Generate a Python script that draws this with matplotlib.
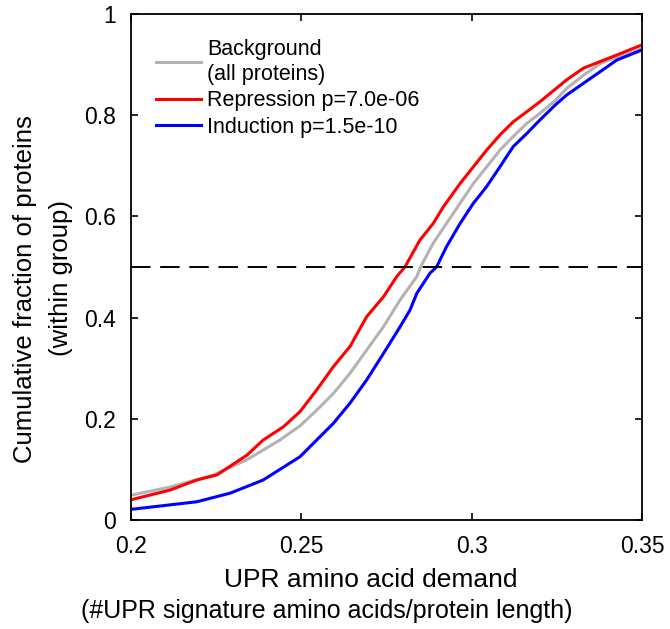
import matplotlib
matplotlib.use("Agg")
import matplotlib.pyplot as plt

plt.rcParams['font.family'] = ['Liberation Sans', 'DejaVu Sans']

# Background (all proteins)
bg_x = [0.2, 0.2114, 0.2242, 0.234, 0.2437, 0.2496, 0.2545, 0.2594, 0.2643, 0.2692,
        0.2741, 0.2790, 0.2839, 0.2850, 0.2887, 0.2926, 0.2966, 0.3005, 0.3044, 0.3083,
        0.3122, 0.3162, 0.3201, 0.3245, 0.3279, 0.3328, 0.3377, 0.3426, 0.3474, 0.35]
bg_y = [0.049, 0.065, 0.089, 0.119, 0.158, 0.186, 0.217, 0.250, 0.290, 0.336,
        0.382, 0.435, 0.481, 0.500, 0.547, 0.586, 0.626, 0.665, 0.698, 0.731,
        0.758, 0.784, 0.804, 0.829, 0.853, 0.879, 0.902, 0.915, 0.925, 0.932]

# Repression
rep_x = [0.2, 0.2114, 0.2193, 0.2252, 0.234, 0.2388, 0.2447, 0.2496, 0.2545, 0.2594,
         0.2643, 0.2692, 0.2741, 0.2780, 0.2804, 0.2848, 0.2887, 0.2917, 0.2966, 0.3005,
         0.3044, 0.3083, 0.3122, 0.3162, 0.3201, 0.3230, 0.3279, 0.3328, 0.3377, 0.3426,
         0.3474, 0.35]
rep_y = [0.040, 0.059, 0.079, 0.089, 0.128, 0.158, 0.184, 0.214, 0.257, 0.303,
         0.343, 0.402, 0.441, 0.481, 0.500, 0.553, 0.586, 0.619, 0.665, 0.698,
         0.731, 0.761, 0.787, 0.807, 0.827, 0.843, 0.870, 0.893, 0.906, 0.919,
         0.932, 0.939]

# Induction
ind_x = [0.2, 0.2193, 0.2291, 0.2388, 0.2496, 0.2545, 0.2594, 0.2643, 0.2692, 0.2741,
         0.2790, 0.2819, 0.2839, 0.2878, 0.2897, 0.2926, 0.2966, 0.3005, 0.3044, 0.3083,
         0.3122, 0.3162, 0.3201, 0.3245, 0.3279, 0.3328, 0.3377, 0.3426, 0.3474, 0.35]
ind_y = [0.021, 0.036, 0.053, 0.079, 0.125, 0.158, 0.191, 0.231, 0.277, 0.329,
         0.382, 0.415, 0.448, 0.488, 0.500, 0.540, 0.586, 0.626, 0.659, 0.698,
         0.738, 0.764, 0.791, 0.820, 0.840, 0.863, 0.886, 0.909, 0.922, 0.929]

labels = ["Background\n(all proteins)", "Repression p=7.0e-06", "Induction p=1.5e-10"]
xticks = [0.2, 0.25, 0.3, 0.35]
xticklabels = ["0.2", "0.25", "0.3", "0.35"]
yticks = [0, 0.2, 0.4, 0.6, 0.8, 1]
yticklabels = ["0", "0.2", "0.4", "0.6", "0.8", "1"]
xlabel_lines = ["UPR amino acid demand", "(#UPR signature amino acids/protein length)"]
ylabel_lines = ["Cumulative fraction of proteins", "(within group)"]

W, H = 670, 629
fig = plt.figure(figsize=(W / 100, H / 100), dpi=100)
ax = fig.add_axes([0.1955, 0.1733, 0.7627, 0.8044])

ax.plot(bg_x, bg_y, color='#b3b3b3', lw=2.2, label=labels[0])
ax.plot(rep_x, rep_y, color='#ff0000', lw=2.2, label=labels[1])
ax.plot(ind_x, ind_y, color='#0000ff', lw=2.2, label=labels[2])
ax.axhline(0.5, color='black', lw=1.4, dashes=(10, 5))

ax.set_xlim(0.2, 0.35)
ax.set_ylim(0, 1)
ax.set_xticks(xticks)
ax.set_xticklabels(xticklabels)
ax.set_yticks(yticks)
ax.set_yticklabels(yticklabels)
ax.tick_params(direction='in', top=True, right=True, length=5, width=1.2,
               labelsize=16.5, pad=11)
for s in ax.spines.values():
    s.set_linewidth(1.3)

# axis labels (two lines each)
fig.text(371 / W, 1 - 587 / H, xlabel_lines[0], fontsize=19, ha='center', va='baseline')
fig.text(327 / W, 1 - 618 / H, xlabel_lines[1], fontsize=18, ha='center', va='baseline')
fig.text(25 / W, 1 - 289 / H, ylabel_lines[0], fontsize=18.5, rotation=90,
         ha='center', va='center')
fig.text(61 / W, 1 - 278 / H, ylabel_lines[1], fontsize=18.5, rotation=90,
         ha='center', va='center')

leg = ax.legend(loc='upper left', frameon=False, fontsize=15.5, handlelength=2.1,
                handletextpad=0.28, labelspacing=0.26, borderaxespad=0, borderpad=0,
                bbox_to_anchor=(0.049, 0.95))

fig.savefig("out.png", dpi=100)
